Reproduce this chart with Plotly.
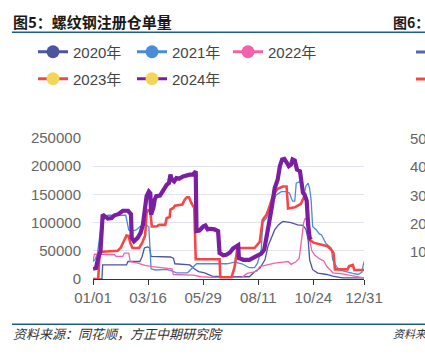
import plotly.graph_objects as go

# ---------------- data (day of year, value) ----------------
x_tickvals = [0, 74, 148, 222, 296, 364]
x_ticktext = ["01/01", "03/16", "05/29", "08/11", "10/24", "12/31"]
y_tickvals = [0, 50000, 100000, 150000, 200000, 250000]

days_2020 = [0, 12, 13, 45, 47, 63, 66, 69, 73, 76, 78, 104, 108, 110, 130, 136, 142, 150, 160,
             175, 210, 217, 224, 231, 235, 240, 244, 249, 255, 266, 275, 282, 286, 289, 291, 295,
             302, 314, 322, 335, 364]
vals_2020 = [0, 0, 25000, 25000, 31000, 31000, 40000, 55000, 57000, 55000, 40000, 39000, 37000,
             27000, 25000, 18000, 13000, 11000, 5000, 4000, 4000, 13000, 19000, 34000, 58000,
             75000, 87000, 96000, 102000, 100000, 96000, 95000, 88000, 70000, 34000, 16500,
             10600, 8000, 5000, 2000, 2000]

days_2021 = [0, 3, 6, 10, 14, 17, 20, 44, 46, 48, 52, 58, 63, 71, 75, 77, 78, 84, 98, 105, 112,
             127, 132, 136, 139, 180, 190, 200, 210, 217, 221, 226, 228, 233, 239, 246, 253, 260,
             264, 268, 271, 273, 277, 281, 283, 286, 289, 291, 293, 295, 300, 304, 307, 313, 320,
             322, 327, 331, 349, 356, 361, 364]
vals_2021 = [31000, 35000, 46000, 85000, 105000, 110000, 113000, 113000, 100000, 87000, 85000,
             87000, 93000, 96000, 93000, 50000, 18000, 16000, 17000, 15000, 11000, 11000, 18000,
             22000, 27000, 27000, 30000, 27000, 20000, 20000, 28000, 52000, 100000, 108000,
             128000, 149000, 155000, 155000, 152000, 138000, 138000, 170000, 172000, 170000,
             148000, 165000, 170000, 160000, 140000, 93000, 87000, 80000, 78000, 63000, 55000,
             34000, 22000, 16000, 10000, 8000, 12000, 31000]

days_2022 = [0, 2, 29, 31, 40, 42, 48, 50, 60, 70, 80, 100, 106, 108, 135, 145, 160, 200, 207,
             215, 220, 224, 233, 244, 255, 262, 266, 272, 277, 280, 283, 285, 287, 290, 294, 298,
             304, 310, 314, 318, 322, 335, 350, 358, 364]
vals_2022 = [33000, 44000, 43000, 40000, 40000, 46000, 46000, 31000, 28000, 24000, 22000, 19000,
             18000, 8000, 7000, 4000, 3000, 3000, 10000, 12000, 14000, 22000, 25000, 28000,
             30000, 31000, 26000, 30000, 37000, 70000, 100000, 108000, 105000, 75000, 50000,
             42000, 36000, 32000, 22000, 17000, 11000, 9000, 5000, 3000, 2000]

days_2023 = [0, 7, 9, 20, 33, 37, 42, 45, 48, 50, 53, 62, 66, 70, 72, 74, 77, 79, 85, 89, 97, 99,
             103, 104, 108, 110, 120, 123, 126, 129, 132, 136, 138, 170, 171, 186, 190, 194, 217,
             224, 228, 233, 237, 242, 248, 255, 260, 262, 271, 279, 284, 287, 290, 297, 306, 315,
             320, 323, 325, 342, 344, 349, 351, 364]
vals_2023 = [0, 0, 48000, 49000, 50000, 55000, 70000, 77000, 76000, 64000, 55000, 55000, 64000,
             77000, 117000, 122000, 120000, 93000, 93000, 96000, 96000, 108000, 110000, 123000,
             126000, 130000, 132000, 140000, 145000, 145000, 135000, 126000, 35000, 35000, 3000,
             3000, 20000, 55000, 55000, 66000, 105000, 114000, 128000, 149000, 160000, 164000,
             164000, 125000, 127000, 133000, 147000, 138000, 70000, 64000, 61000, 58000, 52000,
             46000, 17000, 17000, 23000, 25000, 16000, 16000]

days_2024 = [0, 4, 7, 10, 13, 16, 20, 25, 29, 34, 37, 40, 47, 49, 51, 52, 55, 60, 64, 67, 69, 72,
             75, 77, 78, 81, 83, 85, 90, 94, 99, 102, 104, 106, 109, 112, 116, 121, 125, 130, 134,
             137, 138, 139, 143, 148, 151, 154, 158, 163, 168, 170, 175, 179, 184, 188, 193, 195,
             196, 202, 210, 215, 222, 226, 230, 233, 236, 240, 244, 248, 251, 254, 257, 260, 263,
             266, 268, 271, 274, 278, 280, 282, 284, 287, 289, 291, 293]
vals_2024 = [18000, 19500, 37000, 49000, 114000, 111000, 107000, 108000, 113000, 115000, 119000,
             121000, 121000, 119000, 115000, 73000, 67000, 73000, 82000, 96000, 117000, 147000,
             155000, 152000, 114000, 126000, 141000, 147000, 148000, 158000, 167000, 170000,
             185000, 176000, 173000, 179000, 178000, 182000, 184000, 185000, 185000, 190000,
             191000, 85000, 86000, 93000, 95000, 88000, 89000, 88000, 85000, 46000, 42000, 43000,
             47000, 54000, 60000, 60000, 37000, 34000, 34000, 37000, 41000, 45000, 52000, 70000,
             96000, 126000, 161000, 176000, 200000, 212000, 213000, 207000, 200000, 203000,
             212000, 210000, 194000, 191000, 174000, 153000, 150000, 139000, 96000, 73000, 70000]

series = [
    ("2020年", days_2020, vals_2020, "#4b569e", 1.3, "#4b569e"),
    ("2021年", days_2021, vals_2021, "#4a8cdb", 1.3, "#4a8cdb"),
    ("2022年", days_2022, vals_2022, "#f262aa", 1.3, "#f262aa"),
    ("2023年", days_2023, vals_2023, "#f44848", 2.6, "#f3d659"),
    ("2024年", days_2024, vals_2024, "#7b1fa2", 4.2, "#f3d659"),
]

# ---------------- layout helpers (screen pixel -> paper) ----------------
W, H = 425, 355
ML, MT = 93, 138
PW, PH = 271, 141
MR, MB = W - ML - PW, H - MT - PH


def xp(px):
    return (px - ML) / PW


def yp(py):
    return (MT + PH - py) / PH


FONT = "Helvetica, Arial, 'Liberation Sans', 'Noto Sans CJK SC', sans-serif"
CJK = "'Noto Sans CJK SC', 'Noto Sans', sans-serif"

fig = go.Figure()

for name, d, v, col, w, mcol in series:
    fig.add_trace(go.Scatter(x=d, y=v, mode="lines", line=dict(color=col, width=w),
                             showlegend=False, hoverinfo="skip"))

legend_pos = [(33, 52), (132, 52), (228, 52), (33, 79), (132, 79)]
legend_keys = ["legend", "legend2", "legend3", "legend4", "legend5"]
layout_legends = {}
for (name, d, v, col, w, mcol), (lx, ly), key in zip(series, legend_pos, legend_keys):
    fig.add_trace(go.Scatter(x=[None], y=[None], mode="lines+markers", name=name,
                             line=dict(color=col, width=3),
                             marker=dict(color=mcol, size=13),
                             legend=key, showlegend=True))
    layout_legends[key] = dict(x=xp(lx), y=yp(ly), xanchor="left", yanchor="middle",
                               orientation="h", bgcolor="rgba(0,0,0,0)",
                               font=dict(family=FONT, size=15, color="#444"))

fig.update_layout(**layout_legends)

fig.update_layout(
    width=W, height=H,
    margin=dict(l=ML, r=MR, t=MT, b=MB, pad=0),
    paper_bgcolor="white", plot_bgcolor="white",
    font=dict(family=FONT, size=15, color="#666"),
    xaxis=dict(range=[0, 364], tickvals=x_tickvals, ticktext=x_ticktext,
               showgrid=False, zeroline=False, showline=True, linecolor="#333",
               linewidth=1, ticks="outside", ticklen=5, tickcolor="#333",
               tickfont=dict(size=15, color="#666")),
    yaxis=dict(range=[0, 250000], tickvals=y_tickvals, showgrid=True, gridcolor="#e1e4ee",
               gridwidth=1, zeroline=False, showline=False, ticks="outside", ticklen=8,
               tickcolor="rgba(0,0,0,0)", tickformat="d",
               tickfont=dict(size=15, color="#666")),
)

# decorations: title bars, titles, source notes, neighbouring clipped chart
shapes = [
    dict(type="line", xref="paper", yref="paper", x0=xp(12), x1=xp(430), y0=yp(32.3),
         y1=yp(32.3), line=dict(color="#1e5a8c", width=1.5)),
    dict(type="line", xref="paper", yref="paper", x0=xp(12), x1=xp(430), y0=yp(324.3),
         y1=yp(324.3), line=dict(color="#1e5a8c", width=1.5)),
    dict(type="line", xref="paper", yref="paper", x0=xp(416), x1=xp(430), y0=yp(52),
         y1=yp(52), line=dict(color="#5a66b0", width=3)),
    dict(type="line", xref="paper", yref="paper", x0=xp(416), x1=xp(430), y0=yp(79),
         y1=yp(79), line=dict(color="#f44848", width=3)),
]
fig.update_layout(shapes=shapes)

ann = [
    dict(text="<b>图5：螺纹钢注册仓单量</b>", x=xp(11), y=yp(22),
         font=dict(family=CJK, size=15, color="#1a1a1a")),
    dict(text="<b>图6：</b>", x=xp(391), y=yp(22),
         font=dict(family=CJK, size=14, color="#1a1a1a")),
    dict(text="资料来源：同花顺，方正中期研究院", x=xp(11), y=yp(333),
         font=dict(family=CJK, size=13, color="#333", style="italic")),
    dict(text="资料来", x=xp(391), y=yp(333),
         font=dict(family=CJK, size=11, color="#333", style="italic")),
]
for lbl, py in zip(["50", "40", "30", "20", "10"],
                   [138, 166.5, 195, 223, 251.5]):
    ann.append(dict(text=lbl, x=xp(408), y=yp(py),
                    font=dict(family=FONT, size=15, color="#666")))
for a in ann:
    a.update(xref="paper", yref="paper", xanchor="left", yanchor="middle", showarrow=False)
fig.update_layout(annotations=ann)

fig.write_html("out.html",
               config={"displayModeBar": False},
               post_script="document.body.style.margin='0';"
                           "document.body.style.overflow='hidden';"
                           "document.documentElement.style.overflow='hidden';")
